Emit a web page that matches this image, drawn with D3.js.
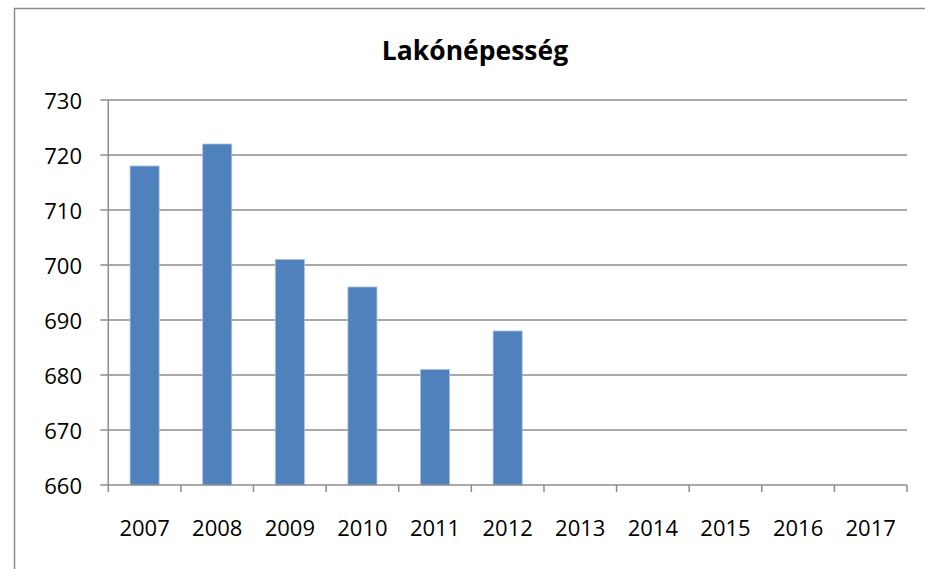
<!DOCTYPE html>
<html><head><meta charset="utf-8">
<script src="https://cdn.jsdelivr.net/npm/d3@7"></script>
<style>body{margin:0;background:#fff;} svg{display:block;}</style>
</head><body>
<svg id="chart" width="925" height="569"></svg>
<script>
const years = ["2007","2008","2009","2010","2011","2012","2013","2014","2015","2016","2017"];
const population = [718, 722, 701, 696, 681, 688, null, null, null, null, null];
const yTicks = [660, 670, 680, 690, 700, 710, 720, 730];
const title = "Lakónépesség";

(function () {
const svg = d3.select("#chart");
const font = "'Open Sans', 'Noto Sans', sans-serif";
const pLeft = 108.3, pRight = 907, pTop = 100, pBottom = 485;

// outer frame
svg.append("rect").attr("x", 14.5).attr("y", 8.5).attr("width", 1000).attr("height", 1000)
  .attr("fill", "none").attr("stroke", "#8c8c8c").attr("stroke-width", 1.5);

const x = d3.scaleBand().domain(years).range([pLeft, pRight]).paddingInner(0.6).paddingOuter(0.3);
const xb = d3.scaleBand().domain(years).range([pLeft, pRight]);
const y = d3.scaleLinear().domain([660, 730]).range([pBottom, pTop]);

// gridlines
svg.append("g").selectAll("line").data(yTicks.filter(t => t !== 660)).join("line")
  .attr("x1", pLeft - 8).attr("x2", pRight).attr("y1", d => y(d)).attr("y2", d => y(d))
  .attr("stroke", "#8c8c8c").attr("stroke-width", 1.5);

// y labels
svg.append("g").selectAll("text").data(yTicks).join("text")
  .attr("x", 82).attr("y", d => y(d)).attr("text-anchor", "end").attr("dominant-baseline", "central")
  .attr("font-family", font).attr("font-size", 22).attr("fill", "#000").text(d => d);

// bars
svg.append("g").selectAll("rect").data(years.map((c, i) => ({c, v: population[i]})).filter(d => d.v != null)).join("rect")
  .attr("x", d => x(d.c)).attr("width", x.bandwidth())
  .attr("y", d => y(d.v)).attr("height", d => y(660) - y(d.v))
  .attr("fill", "#4f81bd").attr("stroke", "#a7c0de").attr("stroke-width", 0.8);

// y axis line
svg.append("line").attr("x1", pLeft).attr("x2", pLeft).attr("y1", pTop).attr("y2", pBottom)
  .attr("stroke", "#8c8c8c").attr("stroke-width", 1.5);
// x axis line
svg.append("line").attr("x1", pLeft - 8).attr("x2", pRight).attr("y1", pBottom).attr("y2", pBottom)
  .attr("stroke", "#8c8c8c").attr("stroke-width", 1.5);
// x ticks at category boundaries
const bounds = years.map(c => xb(c)).concat([pRight]);
svg.append("g").selectAll("line").data(bounds).join("line")
  .attr("x1", d => d).attr("x2", d => d).attr("y1", pBottom).attr("y2", pBottom + 7)
  .attr("stroke", "#8c8c8c").attr("stroke-width", 1.5);

// x labels
svg.append("g").selectAll("text").data(years).join("text")
  .attr("x", d => xb(d) + xb.bandwidth() / 2).attr("y", 527).attr("text-anchor", "middle")
  .attr("dominant-baseline", "central")
  .attr("font-family", font).attr("font-size", 22).attr("fill", "#000").text(d => d);

// title
svg.append("text").attr("x", 475).attr("y", 50).attr("text-anchor", "middle").attr("dominant-baseline", "central")
  .attr("font-family", font).attr("font-weight", "bold").attr("font-size", 26.5).attr("fill", "#000").text(title);
})();
</script>
</body></html>
